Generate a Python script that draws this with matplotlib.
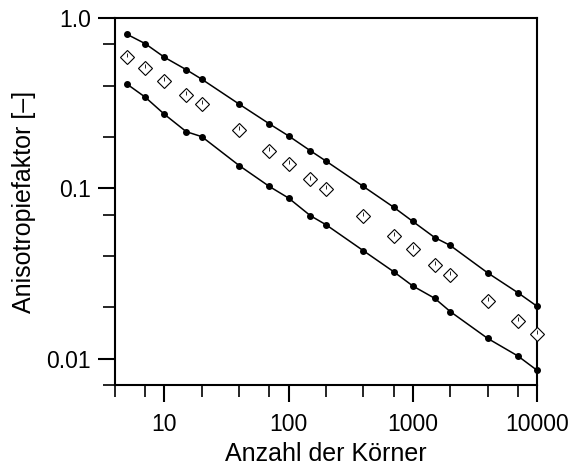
import matplotlib
matplotlib.use("Agg")
import matplotlib.pyplot as plt
from matplotlib.ticker import FixedLocator, NullFormatter, FixedFormatter

plt.rcParams['font.family'] = ['Liberation Sans', 'DejaVu Sans']

# Anzahl der Koerner
koerner = [5, 7, 10, 15, 20, 40, 70, 100, 150, 200, 400, 700, 1000, 1500, 2000, 4000, 7000, 10000]

# obere Grenze
upper = [0.802, 0.707, 0.588, 0.497, 0.437, 0.312, 0.239, 0.203, 0.166, 0.1445,
         0.1025, 0.0775, 0.0639, 0.0514, 0.0462, 0.0319, 0.0244, 0.0203]
# Mittelwert (Rauten)
mean = [0.593, 0.511, 0.427, 0.354, 0.312, 0.220, 0.1666, 0.139, 0.1128, 0.0990,
        0.0692, 0.0526, 0.0440, 0.0356, 0.0311, 0.0219, 0.0167, 0.0140]
# untere Grenze
lower = [0.409, 0.343, 0.272, 0.215, 0.201, 0.136, 0.1025, 0.0876, 0.069, 0.0611,
         0.0430, 0.0324, 0.0267, 0.0226, 0.0189, 0.01315, 0.01037, 0.00854]

xticks = [10, 100, 1000, 10000]
xtick_labels = ["10", "100", "1000", "10000"]
xminor = [4, 7, 20, 40, 70, 200, 400, 700, 2000, 4000, 7000]
yticks = [0.01, 0.1, 1.0]
ytick_labels = ["0.01", "0.1", "1.0"]
yminor = [0.007, 0.02, 0.04, 0.07, 0.2, 0.4, 0.7]

fig = plt.figure(figsize=(5.73, 4.75), dpi=100)
ax = fig.add_axes([0.2007, 0.1895, 0.7365, 0.7726])

ax.plot(koerner, upper, color='black', lw=1.1, marker='o', ms=4, clip_on=False, zorder=3)
ax.plot(koerner, lower, color='black', lw=1.1, marker='o', ms=4, clip_on=False, zorder=3)
ax.plot(koerner, mean, ls='none', marker='D', ms=6.8, mfc='white', mec='black', mew=0.8,
        clip_on=False, zorder=4)
# kleiner Strich in den Rauten
ax.plot(koerner, [m * 1.025 for m in mean], ls='none', marker='|', ms=3, mew=0.6,
        color='black', clip_on=False, zorder=5)

ax.set_xscale('log')
ax.set_yscale('log')
ax.set_xlim(4, 10000)
ax.set_ylim(0.007, 1.0)

ax.xaxis.set_major_locator(FixedLocator(xticks))
ax.xaxis.set_major_formatter(FixedFormatter(xtick_labels))
ax.xaxis.set_minor_locator(FixedLocator(xminor))
ax.xaxis.set_minor_formatter(NullFormatter())
ax.yaxis.set_major_locator(FixedLocator(yticks))
ax.yaxis.set_major_formatter(FixedFormatter(ytick_labels))
ax.yaxis.set_minor_locator(FixedLocator(yminor))
ax.yaxis.set_minor_formatter(NullFormatter())

for s in ax.spines.values():
    s.set_linewidth(1.5)
ax.tick_params(which='major', direction='out', length=12.5, width=1.5,
               labelsize=16.5, pad=5)
ax.tick_params(which='minor', direction='out', length=8.5, width=1.2)
ax.tick_params(axis='x', which='major', pad=8)

ax.set_xlabel("Anzahl der Körner", fontsize=18)
ax.xaxis.set_label_coords(0.5, -0.155)
ax.set_ylabel("Anisotropiefaktor [–]", fontsize=18)
ax.yaxis.set_label_coords(-0.187, 0.5)

fig.savefig("out.png", dpi=100)
